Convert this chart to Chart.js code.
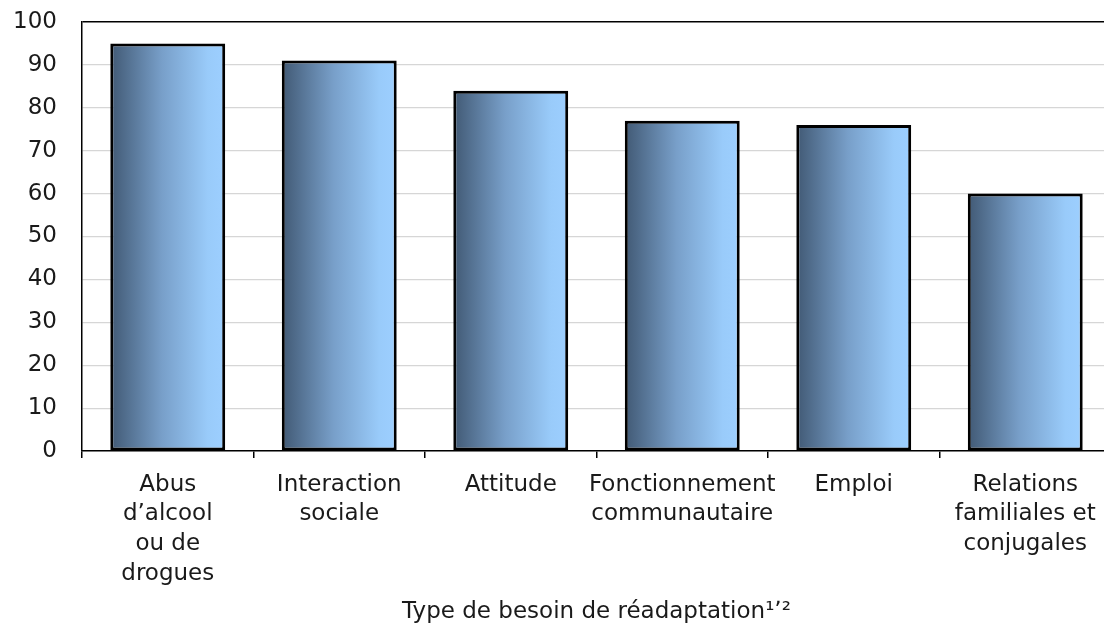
<!DOCTYPE html>
<html>
<head>
<meta charset="utf-8">
<script src="https://cdn.jsdelivr.net/npm/chart.js@4.4.1/dist/chart.umd.min.js"></script>
<style>
  html, body { margin: 0; padding: 0; background: #ffffff; overflow: hidden; }
  #wrap { width: 1112px; height: 627px; }
</style>
</head>
<body>
<div id="wrap"><canvas id="c" width="1112" height="627"></canvas></div>
<script>
const categories = [
  ['Abus', 'd\u2019alcool', 'ou de', 'drogues'],
  ['Interaction', 'sociale'],
  'Attitude',
  ['Fonctionnement', 'communautaire'],
  'Emploi',
  ['Relations', 'familiales et', 'conjugales']
];
const values = [95, 91, 84, 77, 76, 60];
const yMin = 0, yMax = 100, yStep = 10;
const xAxisTitle = 'Type de besoin de r\u00e9adaptation\u00b9\u02bc\u00b2';

const BAR_PCT = 0.67;
const FONT_SIZE = 23;

function barGradient(ctx) {
  const chart = ctx.chart;
  const xs = chart.scales && chart.scales.x;
  if (!chart.chartArea || !xs) return '#7fa7d2';
  const cx = xs.getPixelForValue(ctx.dataIndex);
  const w = (xs.width / categories.length) * BAR_PCT;
  const g = chart.ctx.createLinearGradient(cx - w / 2, 0, cx + w / 2, 0);
  g.addColorStop(0, '#415974');
  g.addColorStop(0.45, '#789fc9');
  g.addColorStop(0.85, '#99cbfa');
  g.addColorStop(1, '#9dcfff');
  return g;
}

function zeroPad(scale) {
  scale.paddingLeft = 0;
  scale.paddingRight = 0;
  scale.paddingTop = 0;
  scale.paddingBottom = 0;
}

Chart.defaults.font.family = '"DejaVu Sans", Verdana, sans-serif';
Chart.defaults.color = '#1a1a1a';

new Chart(document.getElementById('c'), {
  type: 'bar',
  data: {
    labels: categories,
    datasets: [{
      data: values,
      backgroundColor: barGradient,
      borderColor: '#000',
      borderWidth: 3,
      borderSkipped: false,
      barPercentage: BAR_PCT,
      categoryPercentage: 1
    }]
  },
  options: {
    responsive: false,
    animation: false,
    devicePixelRatio: 1,
    layout: { padding: { left: 15, top: 22, right: 1, bottom: 0 } },
    plugins: { legend: { display: false }, tooltip: { enabled: false } },
    scales: {
      x: {
        afterFit: (s) => { s.height = 176; zeroPad(s); },
        grid: {
          offset: true,
          drawOnChartArea: false,
          drawTicks: true,
          tickLength: 7,
          color: '#000',
          lineWidth: 1.5
        },
        border: { color: '#000', width: 1.5 },
        ticks: {
          font: { size: FONT_SIZE, lineHeight: 1.29 },
          padding: 12,
          maxRotation: 0,
          autoSkip: false,
          color: '#1a1a1a'
        },
        title: {
          display: true,
          text: xAxisTitle,
          font: { size: FONT_SIZE },
          color: '#1a1a1a',
          padding: { top: 4, bottom: 1 }
        }
      },
      y: {
        afterFit: (s) => { s.width = 67; zeroPad(s); },
        min: yMin,
        max: yMax,
        ticks: { stepSize: yStep, font: { size: FONT_SIZE }, padding: 25, color: '#1a1a1a' },
        grid: {
          drawTicks: false,
          color: (c) => (c.tick && c.tick.value === yMax ? '#000' : '#d6d6d6'),
          lineWidth: (c) => (c.tick && c.tick.value === yMax ? 1.5 : 1.2)
        },
        border: { color: '#000', width: 1.5 }
      }
    }
  }
});
</script>
</body>
</html>
